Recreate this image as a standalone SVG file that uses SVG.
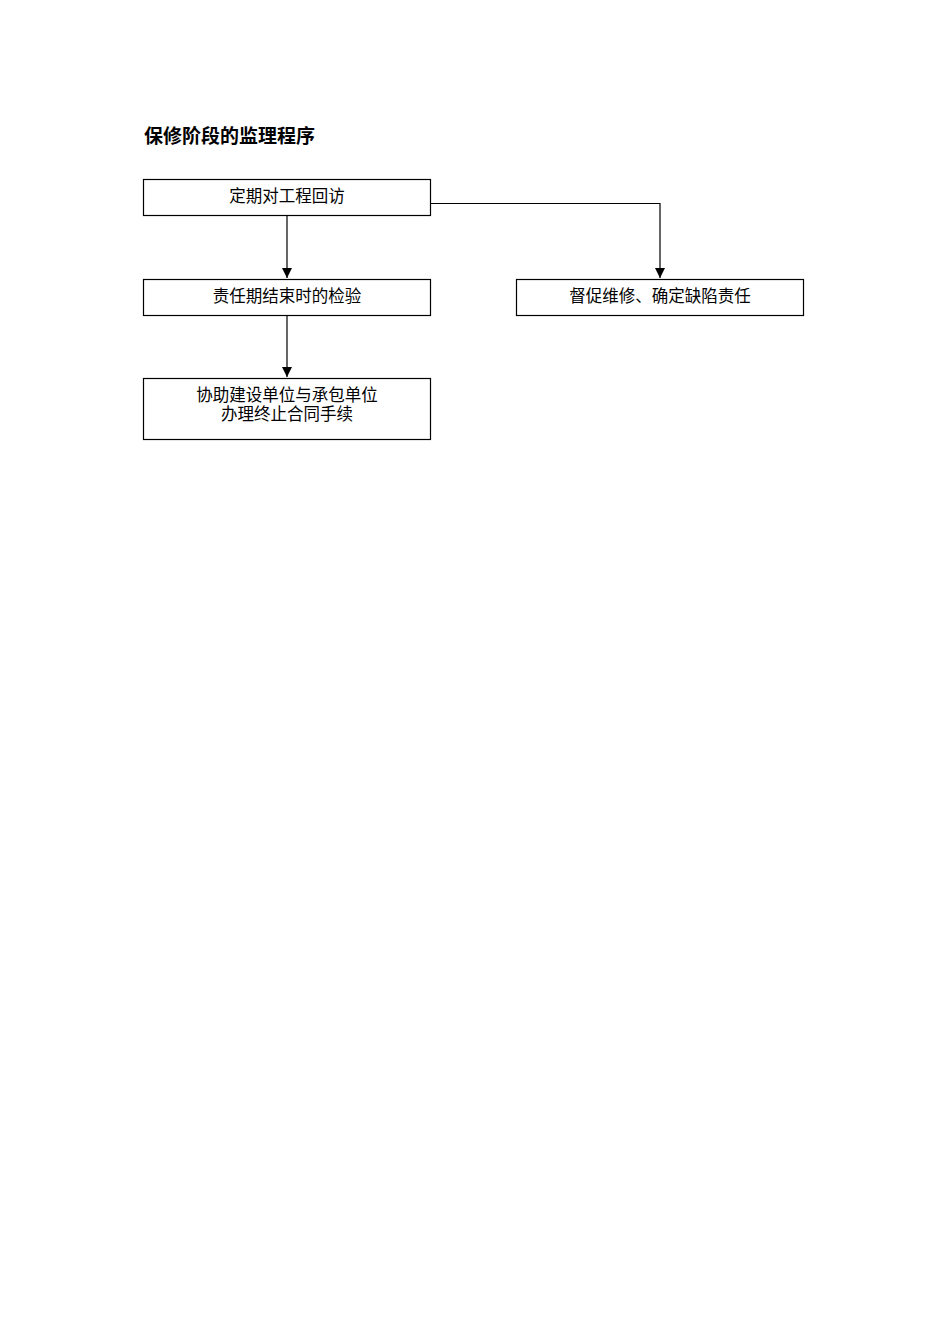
<svg xmlns="http://www.w3.org/2000/svg" width="950" height="1344" viewBox="0 0 950 1344">
<style>
.box{fill:#fff;stroke:#000;stroke-width:1.2}
.t{font-family:"Liberation Serif","Noto Sans CJK SC",serif;font-size:16.5px;fill:#000;text-anchor:middle}
.ttl{font-family:"Liberation Sans","Noto Sans CJK SC",sans-serif;font-size:19px;font-weight:bold;fill:#000}
.c{fill:none;stroke:#000;stroke-width:1.2}
</style>
<rect width="950" height="1344" fill="#fff"/>
<text class="ttl" x="144" y="143">保修阶段的监理程序</text>
<g id="connectors">
<path class="c" d="M287,216 L287,278"/>
<path class="c" d="M287,316 L287,377"/>
<path class="c" d="M430,203.5 L660,203.5 L660,278"/>
<path d="M282,268 L292,268 L287,278 Z" fill="#000"/>
<path d="M282,367 L292,367 L287,377 Z" fill="#000"/>
<path d="M655,268 L665,268 L660,278 Z" fill="#000"/>
</g>
<g id="n1"><rect class="box" x="143.5" y="179.5" width="287" height="36"/><text class="t" x="287" y="202">定期对工程回访</text></g>
<g id="n2"><rect class="box" x="143.5" y="279.5" width="287" height="36"/><text class="t" x="287" y="302">责任期结束时的检验</text></g>
<g id="n3"><rect class="box" x="143.5" y="378.5" width="287" height="61"/><text class="t" x="287" y="401">协助建设单位与承包单位</text><text class="t" x="287" y="420">办理终止合同手续</text></g>
<g id="n4"><rect class="box" x="516.5" y="279.5" width="287" height="36"/><text class="t" x="660" y="302">督促维修、确定缺陷责任</text></g>
</svg>
